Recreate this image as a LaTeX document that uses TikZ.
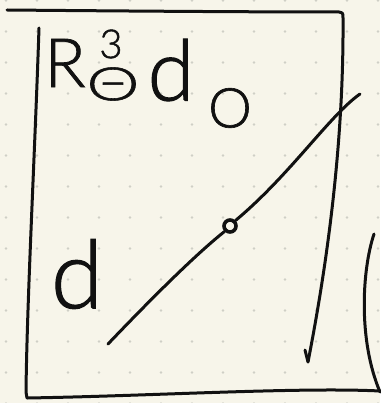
\documentclass[tikz,border=0pt]{standalone}
\usepackage{fontspec}
\newfontfamily\hand{Lato}[UprightFont={* Light}, FakeBold=1.2]
\definecolor{paper}{HTML}{F7F5EA}
\definecolor{dotc}{HTML}{CFCFC6}
\definecolor{inkc}{HTML}{111111}
\begin{document}
\begin{tikzpicture}[x=1pt,y=-1pt,
  ink/.style={line width=3pt, line cap=round, line join=round, draw=inkc},
  txt/.style={inner sep=0pt, text=inkc, font=\hand}]
\fill[paper] (0,0) rectangle (380,403);
\useasboundingbox (0,0) rectangle (380,403);
\foreach \i in {0,...,12} {
  \foreach \j in {0,...,13} {
    \fill[dotc] ({6+31*\i},{0.5+31*\j}) circle (1.3);
  }
}
% frame
\draw[ink] (7,10) .. controls (120,11) and (250,12) .. (339,12) .. controls (343,13) .. (343,18)
  .. controls (344,160) and (322,290) .. (308,362);
\draw[ink] (305,350) -- (308,362);
\draw[ink] (39,28) .. controls (35,150) and (27,300) .. (26,392) -- (27,398)
  .. controls (150,396) and (300,387) .. (380,391);
\draw[ink] (374,234) .. controls (362,270) and (358,340) .. (380,392);
% diagonal line with point
\coordinate (a) at (108,344);
\coordinate (b) at (360,94);
\node[circle, draw=inkc, line width=3.6pt, minimum size=12pt, inner sep=0pt] (p) at (230,226) {};
\draw[ink] (a) .. controls (150,300) and (195,255) .. (p.south west);
\draw[ink] (p.north east) .. controls (290,175) and (330,115) .. (b);
% texts
\node[txt, font=\hand\fontsize{68}{68}\selectfont] (r) at (65,63) {R};
\node[txt, font=\hand\fontsize{40}{40}\selectfont] (three) at (111,44) {3};
\node[txt, font=\hand\fontsize{46}{46}\selectfont, xscale=1.45] (theta) at (113,84) {Θ};
\node[txt, font=\hand\fontsize{85}{85}\selectfont] (d1) at (171,70) {d};
\node[txt, font=\hand\fontsize{55}{55}\selectfont] (o) at (230,108) {O};
\node[txt, font=\hand\fontsize{95}{95}\selectfont] (d2) at (77,274) {d};
\end{tikzpicture}
\end{document}
